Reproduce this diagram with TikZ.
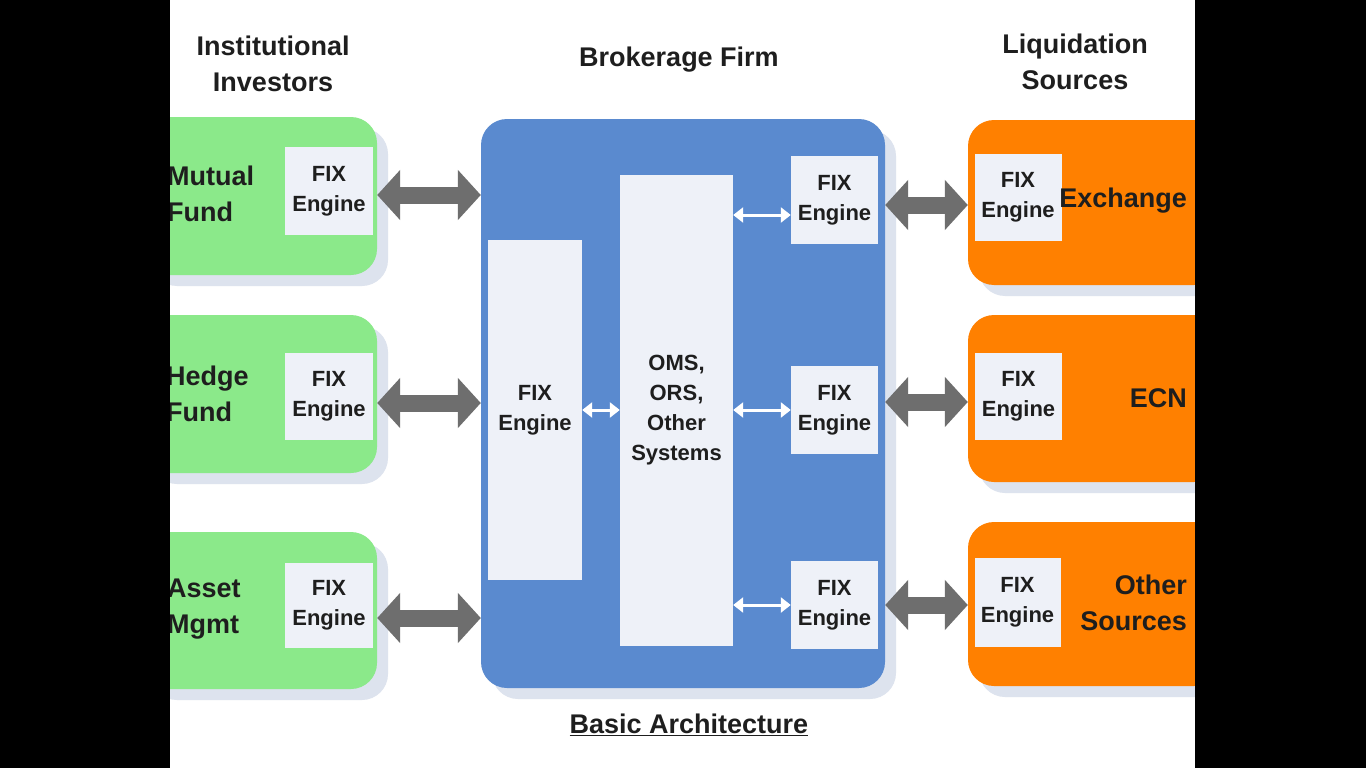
\documentclass[tikz,border=0pt]{standalone}
\usepackage{fontspec}
\setmainfont{Liberation Sans}
\usetikzlibrary{arrows.meta}
\definecolor{gfill}{HTML}{8BE98A}
\definecolor{ofill}{HTML}{FF8000}
\definecolor{bfill}{HTML}{5A8ACF}
\definecolor{fixfill}{HTML}{EEF1F8}
\definecolor{shadowc}{HTML}{DDE3EE}
\definecolor{garrow}{HTML}{6E6E6E}
\definecolor{txt}{HTML}{1E1E1E}
\tikzset{
  box/.style={rounded corners=26pt, inner sep=0pt, draw=none},
  greenbox/.style={box, fill=gfill},
  orangebox/.style={box, fill=ofill},
  bluebox/.style={box, fill=bfill},
  fixbox/.style={fill=fixfill, inner sep=0pt, text=txt, align=center,
     font=\bfseries\fontsize{22}{30}\selectfont},
  lbl/.style={text=txt, font=\bfseries\fontsize{27}{36}\selectfont, inner sep=0pt},
  bigarrow/.style={draw=garrow, line width=17pt,
     {Triangle[width=49pt,length=23pt]}-{Triangle[width=49pt,length=23pt]}},
  smallarrow/.style={draw=white, line width=3pt,
     {Triangle[width=15pt,length=10pt]}-{Triangle[width=15pt,length=10pt]}},
}
\newcommand{\myshadow}[4]{\fill[shadowc, rounded corners=26pt] (#1+11,#2+11) rectangle (#3+11,#4+11);}
\begin{document}
\begin{tikzpicture}[x=1pt,y=-1pt]
\useasboundingbox (0,0) rectangle (1366,768);
\fill[white] (0,0) rectangle (1366,768);

% headers
\node[lbl, align=center] (hinst) at (273,64) {Institutional\\Investors};
\node[lbl] (hbrok) at (679,60) {Brokerage Firm};
\node[lbl, align=center] (hliq) at (1075,62) {Liquidation\\Sources};
\node[lbl] (hbasic) at (689,725) {\underline{Basic Architecture}};

% shadows
\myshadow{140}{117}{377}{275}
\myshadow{140}{315}{377}{473}
\myshadow{140}{532}{377}{689}
\myshadow{481}{119}{885}{688}
\myshadow{968}{120}{1220}{285}
\myshadow{968}{315}{1220}{482}
\myshadow{968}{522}{1220}{686}

% green boxes
\node[greenbox, minimum width=237pt, minimum height=158pt] (gb1) at (258.5,196) {};
\node[greenbox, minimum width=237pt, minimum height=158pt] (gb2) at (258.5,394) {};
\node[greenbox, minimum width=237pt, minimum height=157pt] (gb3) at (258.5,610.5) {};
\node[fixbox, minimum width=88pt, minimum height=88pt] (gf1) at (329,191) {FIX\\Engine};
\node[fixbox, minimum width=88pt, minimum height=87pt] (gf2) at (329,396.5) {FIX\\Engine};
\node[fixbox, minimum width=88pt, minimum height=85pt] (gf3) at (329,605.5) {FIX\\Engine};
\node[lbl, align=left, anchor=west] (tmf) at (167,194) {Mutual\\Fund};
\node[lbl, align=left, anchor=west] (thf) at (166,394) {Hedge\\Fund};
\node[lbl, align=left, anchor=west] (tam) at (167,609) {Asset\\Mgmt};

% brokerage firm
\node[bluebox, minimum width=404pt, minimum height=569pt] (brk) at (683,403.5) {};
\node[fixbox, minimum width=94pt, minimum height=340pt] (lfix) at (535,410) {FIX\\Engine};
\node[fixbox, minimum width=113pt, minimum height=471pt] (oms) at (676.5,410.5) {OMS,\\ORS,\\Other\\Systems};
\node[fixbox, minimum width=87pt, minimum height=88pt] (rf1) at (834.5,200) {FIX\\Engine};
\node[fixbox, minimum width=87pt, minimum height=88pt] (rf2) at (834.5,410) {FIX\\Engine};
\node[fixbox, minimum width=87pt, minimum height=88pt] (rf3) at (834.5,605) {FIX\\Engine};

% orange boxes
\node[orangebox, minimum width=252pt, minimum height=165pt] (ob1) at (1094,202.5) {};
\node[orangebox, minimum width=252pt, minimum height=167pt] (ob2) at (1094,398.5) {};
\node[orangebox, minimum width=252pt, minimum height=164pt] (ob3) at (1094,604) {};
\node[fixbox, minimum width=87pt, minimum height=87pt] (of1) at (1018,197.5) {FIX\\Engine};
\node[fixbox, minimum width=87pt, minimum height=87pt] (of2) at (1018.5,396.5) {FIX\\Engine};
\node[fixbox, minimum width=86pt, minimum height=89pt] (of3) at (1017.5,602.5) {FIX\\Engine};
\node[lbl, anchor=east] (tex) at (1187,201) {Exchange};
\node[lbl, anchor=east] (tecn) at (1187,398) {ECN};
\node[lbl, align=right, anchor=east] (tos) at (1187,603) {Other\\Sources};

% connectors
\draw[bigarrow] ([yshift=1pt]gb1.east) -- ([yshift=1pt]gb1.east -| brk.west);
\draw[bigarrow] ([yshift=-9pt]gb2.east) -- ([yshift=-9pt]gb2.east -| brk.west);
\draw[bigarrow] ([yshift=-7.5pt]gb3.east) -- ([yshift=-7.5pt]gb3.east -| brk.west);
\draw[bigarrow] ([yshift=-2.5pt]ob1.west -| brk.east) -- ([yshift=-2.5pt]ob1.west);
\draw[bigarrow] ([yshift=-3.5pt]ob2.west -| brk.east) -- ([yshift=-3.5pt]ob2.west);
\draw[bigarrow] ([yshift=-1pt]ob3.west -| brk.east) -- ([yshift=-1pt]ob3.west);
\draw[smallarrow] (lfix.east) -- (lfix.east -| oms.west);
\draw[smallarrow] ([yshift=-15pt]rf1.west -| oms.east) -- ([yshift=-15pt]rf1.west);
\draw[smallarrow] (rf2.west -| oms.east) -- (rf2.west);
\draw[smallarrow] (rf3.west -| oms.east) -- (rf3.west);

% black side bars
\fill[black] (0,0) rectangle (170,768);
\fill[black] (1195,0) rectangle (1366,768);
\end{tikzpicture}
\end{document}
